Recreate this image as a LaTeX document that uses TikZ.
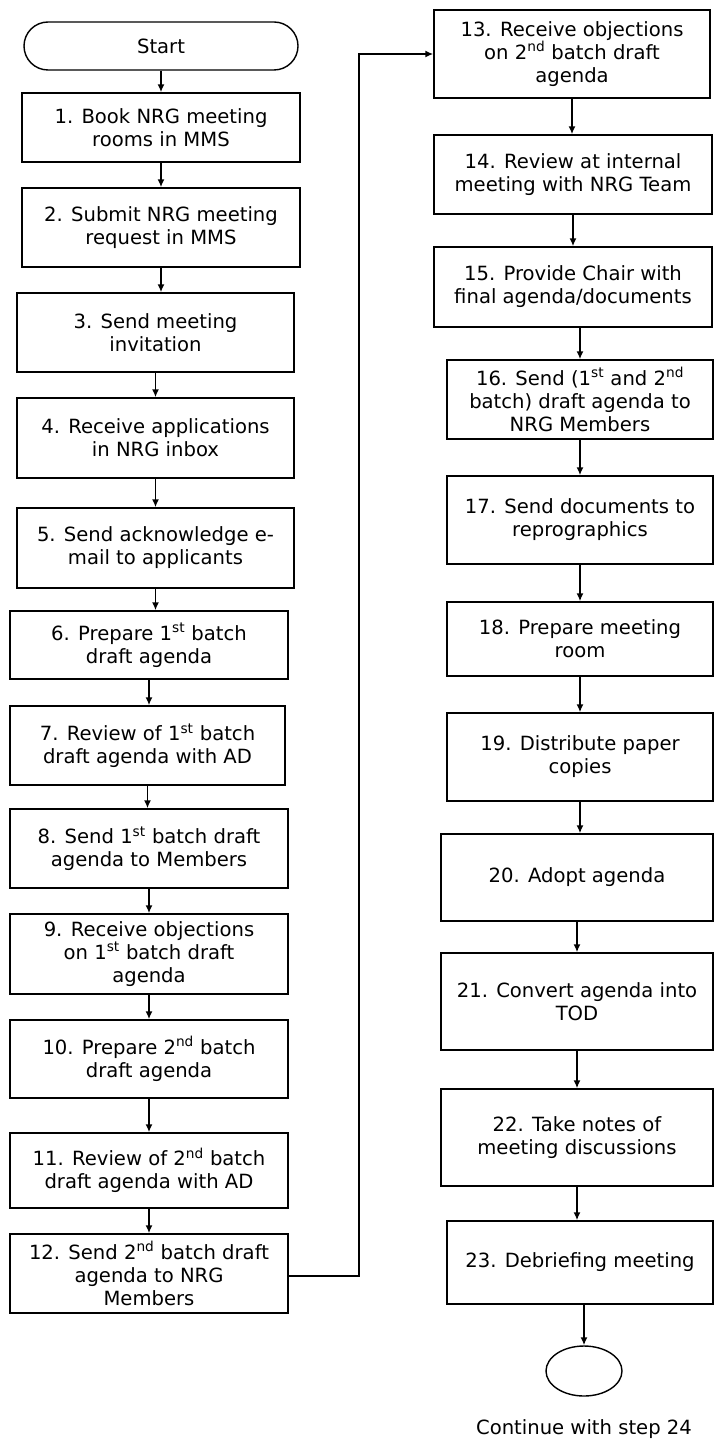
\documentclass[tikz,border=0pt]{standalone}
\usepackage{fontspec}
\setmainfont{DejaVu Sans}
\usetikzlibrary{arrows.meta,shapes.misc,shapes.geometric}
\newcommand{\sst}{\textsuperscript{st}}
\newcommand{\snd}{\textsuperscript{nd}}

\begin{document}
\begin{tikzpicture}[x=1pt,y=-1pt]
\tikzstyle{every node}+=[font=\fontsize{19.6}{23}\selectfont, inner sep=0pt]
\tikzstyle{stepbox}=[draw=black, line width=1.4pt, rectangle, align=center]
\tikzstyle{flow}=[line width=1.6pt, -{Latex[length=8pt,width=7pt]}]
\useasboundingbox (0,0) rectangle (714,1439);
% left column
\node [draw, rounded rectangle, line width=1.4pt, minimum width=274pt, minimum height=48pt] (start) at (161,46) {Start};
\node [stepbox, minimum width=278pt, minimum height=69pt] (s1) at (161,127.5) {1. Book NRG meeting\\rooms in MMS};
\node [stepbox, minimum width=278pt, minimum height=79pt] (s2) at (161,227.5) {2. Submit NRG meeting\\request in MMS};
\node [stepbox, minimum width=277pt, minimum height=79pt] (s3) at (155.5,332.5) {3. Send meeting\\invitation};
\node [stepbox, minimum width=277pt, minimum height=80pt] (s4) at (155.5,438) {4. Receive applications\\in NRG inbox};
\node [stepbox, minimum width=277pt, minimum height=80pt] (s5) at (155.5,548) {5. Send acknowledge e-\\mail to applicants};
\node [stepbox, minimum width=278pt, minimum height=68pt] (s6) at (149,645) {6. Prepare 1\sst{} batch\\draft agenda};
\node [stepbox, minimum width=275pt, minimum height=79pt] (s7) at (147.5,745.5) {7. Review of 1\sst{} batch\\draft agenda with AD};
\node [stepbox, minimum width=278pt, minimum height=79pt] (s8) at (149,848.5) {8. Send 1\sst{} batch draft\\agenda to Members};
\node [stepbox, minimum width=278pt, minimum height=80pt] (s9) at (149,954) {9. Receive objections\\on 1\sst{} batch draft\\agenda};
\node [stepbox, minimum width=278pt, minimum height=78pt] (s10) at (149,1059) {10. Prepare 2\snd{} batch\\draft agenda};
\node [stepbox, minimum width=278pt, minimum height=75pt] (s11) at (149,1170.5) {11. Review of 2\snd{} batch\\draft agenda with AD};
\node [stepbox, minimum width=278pt, minimum height=79pt] (s12) at (149,1273.5) {12. Send 2\snd{} batch draft\\agenda to NRG\\Members};
% right column
\node [stepbox, minimum width=276pt, minimum height=88pt] (s13) at (572,54) {13. Receive objections\\on 2\snd{} batch draft\\agenda};
\node [stepbox, minimum width=278pt, minimum height=79pt] (s14) at (573,174.5) {14. Review at internal\\meeting with NRG Team};
\node [stepbox, minimum width=278pt, minimum height=80pt] (s15) at (573,287) {15. Provide Chair with\\final agenda/documents};
\node [stepbox, minimum width=266pt, minimum height=79pt] (s16) at (580,399.5) {16. Send (1\sst{} and 2\snd\\batch) draft agenda to\\NRG Members};
\node [stepbox, minimum width=266pt, minimum height=88pt] (s17) at (580,520) {17. Send documents to\\reprographics};
\node [stepbox, minimum width=266pt, minimum height=74pt] (s18) at (580,639) {18. Prepare meeting\\room};
\node [stepbox, minimum width=266pt, minimum height=88pt] (s19) at (580,757) {19. Distribute paper\\copies};
\node [stepbox, minimum width=272pt, minimum height=87pt] (s20) at (577,877.5) {20. Adopt agenda};
\node [stepbox, minimum width=272pt, minimum height=97pt] (s21) at (577,1001.5) {21. Convert agenda into\\TOD};
\node [stepbox, minimum width=272pt, minimum height=97pt] (s22) at (577,1137.5) {22. Take notes of\\meeting discussions};
\node [stepbox, minimum width=266pt, minimum height=83pt] (s23) at (580,1262.5) {23. Debriefing meeting};
\node [draw, ellipse, line width=1.4pt, minimum width=76pt, minimum height=50pt] (stop) at (584,1371) {};
\node (cont) at (584,1429) {Continue with step 24};
% arrows
\draw [flow] (start.south) -- (start.south |- s1.north);
\draw [flow] (s1.south) -- (s1.south |- s2.north);
\draw [flow] (s2.south) -- (s2.south |- s3.north);
\draw [flow] (s3.south) -- (s3.south |- s4.north);
\draw [flow] (s4.south) -- (s4.south |- s5.north);
\draw [flow] (s5.south) -- (s5.south |- s6.north);
\draw [flow] (s6.south) -- (s6.south |- s7.north);
\draw [flow] (s7.south) -- (s7.south |- s8.north);
\draw [flow] (s8.south) -- (s8.south |- s9.north);
\draw [flow] (s9.south) -- (s9.south |- s10.north);
\draw [flow] (s10.south) -- (s10.south |- s11.north);
\draw [flow] (s11.south) -- (s11.south |- s12.north);
\coordinate (bend) at (359,1276);
\draw [flow] (s12.east |- bend) -- (bend) |- (s13.west);
\draw [flow] (s13.south) -- (s13.south |- s14.north);
\draw [flow] (s14.south) -- (s14.south |- s15.north);
\draw [flow] (s16.north |- s15.south) -- (s16.north);
\draw [flow] (s16.south) -- (s16.south |- s17.north);
\draw [flow] (s17.south) -- (s17.south |- s18.north);
\draw [flow] (s18.south) -- (s18.south |- s19.north);
\draw [flow] (s19.south) -- (s19.south |- s20.north);
\draw [flow] (s20.south) -- (s20.south |- s21.north);
\draw [flow] (s21.south) -- (s21.south |- s22.north);
\draw [flow] (s22.south) -- (s22.south |- s23.north);
\draw [flow] (stop.north |- s23.south) -- (stop.north);
\end{tikzpicture}
\end{document}
